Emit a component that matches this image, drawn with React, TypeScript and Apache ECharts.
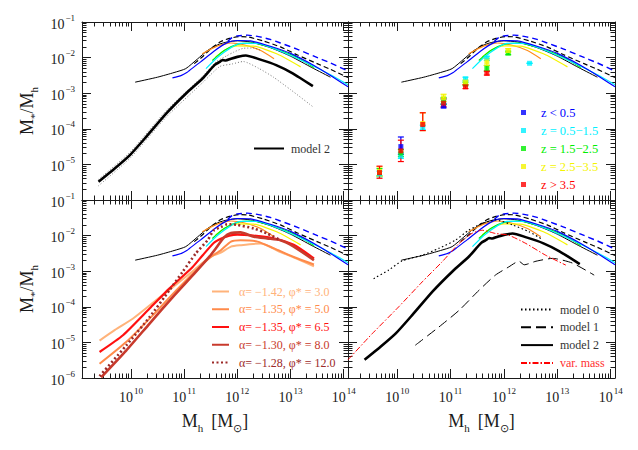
import React, { useEffect, useRef } from 'react';
import * as echarts from 'echarts';

// ---- axis ranges (log10 space) ----
const X_MIN = 9.08;
const X_MAX = 14.08;
const Y_MIN = -6;
const Y_MAX = -1;
const xMajorTicks = [10, 11, 12, 13, 14];
const yMajorTicks = [-6, -5, -4, -3, -2, -1];
const topYLabels = [-5, -4, -3, -2, -1];
const bottomYLabels = [-6, -5, -4, -3, -2, -1];
const minorFactors = [2, 3, 4, 5, 6, 7, 8, 9];

// ---- data: [log10 Mh, log10 (M*/Mh)] ----
const refBlackSolid = [[10.08, -2.69], [10.5, -2.55], [10.81, -2.42], [11.03, -2.31], [11.25, -2.04], [11.44, -1.8], [11.63, -1.64], [11.81, -1.56], [12.0, -1.53], [12.25, -1.56], [12.62, -1.72], [13.0, -1.96], [13.4, -2.28], [13.75, -2.55]];
const refBlackDashed = [[11.19, -2.17], [11.35, -1.97], [11.5, -1.75], [11.69, -1.55], [11.85, -1.46], [12.05, -1.41], [12.2, -1.42], [12.5, -1.54], [12.81, -1.7], [13.12, -1.92], [13.5, -2.17], [13.75, -2.33], [14.08, -2.56]];
const refBlueDashed = [[11.82, -1.55], [11.9, -1.44], [12.0, -1.39], [12.19, -1.37], [12.4, -1.41], [12.62, -1.49], [12.81, -1.59], [13.12, -1.76], [13.44, -1.96], [13.75, -2.15], [14.08, -2.38]];
const refBlueSolid = [[10.78, -2.57], [10.95, -2.5], [11.05, -2.42], [11.1, -2.36], [11.31, -2.12], [11.56, -1.82], [11.81, -1.58], [12.0, -1.52], [12.25, -1.53], [12.62, -1.68], [13.0, -1.88], [13.44, -2.22], [13.75, -2.5], [14.08, -2.82]];
const refCyan = [[11.41, -2.31], [11.63, -1.99], [11.88, -1.72], [12.06, -1.6], [12.38, -1.6], [12.81, -1.82], [13.31, -2.15], [13.75, -2.48], [14.08, -2.76]];
const refGreen = [[11.53, -2.08], [11.75, -1.8], [12.0, -1.63], [12.25, -1.59], [12.62, -1.71], [13.12, -1.99], [13.44, -2.28]];
const refYellow = [[11.59, -1.98], [11.81, -1.75], [12.0, -1.67], [12.31, -1.68], [12.75, -1.9], [13.19, -2.26]];
const refOrange = [[11.34, -1.89], [11.63, -1.67], [11.88, -1.59], [12.12, -1.64], [12.44, -1.8], [12.69, -2.03]];

const model2 = [[9.39, -5.49], [9.7, -5.11], [9.98, -4.74], [10.29, -4.22], [10.67, -3.56], [11.04, -3.0], [11.35, -2.58], [11.57, -2.21], [11.67, -2.12], [11.72, -2.07], [11.78, -2.08], [11.88, -2.03], [12.0, -1.98], [12.16, -1.94], [12.42, -2.05], [12.73, -2.21], [13.04, -2.44], [13.42, -2.8]];
const model2Upper = [[9.39, -5.42], [9.98, -4.66], [10.67, -3.48], [11.35, -2.52], [11.6, -2.12], [11.8, -1.95], [11.94, -1.84], [12.11, -1.74], [12.3, -1.73], [12.45, -1.8]];
const model2Lower = [[9.39, -5.6], [9.98, -4.83], [10.67, -3.66], [11.35, -2.7], [11.67, -2.25], [11.9, -2.18], [12.11, -2.11], [12.4, -2.3], [12.67, -2.54], [13.0, -2.9], [13.42, -3.38]];

const alpha142 = [[9.41, -4.95], [9.7, -4.65], [10.04, -4.33], [10.47, -3.82], [10.91, -3.3], [11.2, -2.95], [11.41, -2.69], [11.56, -2.55], [11.69, -2.48], [11.88, -2.31], [12.06, -2.27], [12.44, -2.22], [12.81, -2.46], [13.1, -2.64], [13.44, -2.86]];
const alpha135a = [[9.41, -5.6], [9.91, -4.99], [10.41, -4.24], [10.85, -3.54], [11.29, -2.88], [11.5, -2.6], [11.69, -2.41], [11.88, -2.17], [12.06, -2.13], [12.38, -2.17], [12.69, -2.36], [13.06, -2.6], [13.44, -2.81]];
const alpha135b = [[9.41, -5.27], [9.85, -4.8], [10.35, -4.05], [10.72, -3.49], [11.16, -2.88], [11.35, -2.55], [11.56, -2.2], [11.7, -2.08], [11.85, -2.0], [12.0, -1.97], [12.3, -2.0], [12.7, -2.08], [13.06, -2.26], [13.44, -2.64]];
const alpha130 = [[9.44, -5.98], [9.91, -5.23], [10.35, -4.47], [10.79, -3.72], [11.22, -3.02], [11.47, -2.6], [11.6, -2.35], [11.75, -2.05], [11.88, -1.93], [12.06, -1.91], [12.31, -2.03], [12.56, -2.08], [12.81, -2.13], [13.06, -2.31], [13.44, -2.69]];
const alpha128 = [[9.41, -5.95], [9.91, -5.09], [10.35, -4.29], [10.72, -3.54], [10.97, -3.02], [11.22, -2.5], [11.44, -2.13], [11.56, -1.85], [11.69, -1.76], [11.81, -1.68], [12.0, -1.7], [12.31, -1.8], [12.56, -1.94], [12.81, -2.13]];

const model0 = [[9.56, -3.21], [9.84, -2.97], [10.09, -2.71], [10.47, -2.55], [10.78, -2.36], [11.09, -2.13], [11.34, -1.85], [11.59, -1.66], [11.84, -1.56], [12.16, -1.7], [12.47, -1.89], [12.69, -2.08]];
const model1 = [[10.34, -5.08], [10.78, -4.57], [11.16, -4.1], [11.53, -3.54], [11.84, -3.11], [12.09, -2.88], [12.28, -2.72], [12.38, -2.82], [12.6, -2.72], [12.91, -2.64], [13.28, -2.77], [13.69, -3.11]];
const varMass = [[9.08, -5.49], [9.53, -4.76], [10.03, -4.0], [10.47, -3.3], [10.84, -2.74], [11.16, -2.22], [11.41, -1.93], [11.6, -1.85], [11.84, -1.94], [12.09, -1.99], [12.41, -2.22], [12.78, -2.55], [13.16, -2.83]];

// observed points: [log Mh, log ratio, err down, err up]
const zBin1 = [[10.07, -4.5, 0.22, 0.27], [10.87, -3.36, 0.05, 0.06]];
const zBin2 = [[9.67, -5.27, 0.08, 0.08], [10.07, -4.76, 0.07, 0.08], [10.48, -3.96, 0.07, 0.06], [10.87, -3.24, 0.07, 0.08], [11.28, -2.6, 0.05, 0.05], [11.68, -2.02, 0.06, 0.06], [12.48, -2.16, 0, 0]];
const zBin3 = [[9.67, -5.22, 0.1, 0.1], [10.07, -4.68, 0.1, 0.1], [10.87, -3.22, 0.1, 0.1], [11.28, -2.74, 0.05, 0.05], [11.68, -2.3, 0.08, 0.08], [12.08, -1.87, 0.05, 0.05]];
const zBin4 = [[9.67, -5.2, 0.14, 0.13], [10.48, -3.85, 0.2, 0.3], [10.87, -3.13, 0.1, 0.1], [11.28, -2.69, 0.06, 0.06], [11.68, -2.12, 0.1, 0.1], [12.08, -1.8, 0.05, 0.05]];
const zBin5 = [[9.67, -5.23, 0.16, 0.18], [10.07, -4.62, 0.3, 0.3], [10.48, -3.88, 0.17, 0.33], [10.87, -3.28, 0.1, 0.12], [11.28, -2.82, 0.05, 0.06], [11.68, -2.44, 0.05, 0.06]];

const zNames = ['z < 0.5', 'z = 0.5−1.5', 'z = 1.5−2.5', 'z = 2.5−3.5', 'z > 3.5'];
const zColors = ['#0000ff', '#00f0ff', '#00ee00', '#f4f400', '#ff0000'];
const alphaNames = ['α= −1.42, φ* = 3.0', 'α= −1.35, φ* = 5.0', 'α= −1.35, φ* = 6.5', 'α= −1.30, φ* = 8.0', 'α= −1.28, φ* = 12.0'];
const alphaColors = ['#ffb37a', '#ff8a4a', '#ff1010', '#c83a2c', '#9c2a28'];
const modelNames = ['model 0', 'model 1', 'model 2', 'var. mass'];

const FONT = 'Liberation Serif';
const INK = '#1a1a1a';

const GRIDS = [
  { left: 82, top: 22, width: 266, height: 178 },
  { left: 348, top: 22, width: 267, height: 178 },
  { left: 82, top: 200, width: 266, height: 178 },
  { left: 348, top: 200, width: 267, height: 178 },
];

function minorTicks(lo: number, hi: number) {
  const out: number[] = [];
  for (let n = Math.floor(lo) - 1; n <= Math.ceil(hi); n++) {
    for (const k of minorFactors) {
      const v = n + Math.log10(k);
      if (v > lo && v < hi) out.push(v);
    }
  }
  return out;
}

const rich = {
  b: { fontSize: 14, fontFamily: FONT, color: INK, lineHeight: 18, verticalAlign: 'bottom' },
  s: { fontSize: 9, fontFamily: FONT, color: INK, lineHeight: 18, verticalAlign: 'top', padding: [0, 0, 0, 1] },
};
const titleRich = {
  m: { fontSize: 18, fontFamily: FONT, color: INK, lineHeight: 22, verticalAlign: 'bottom' },
  sub: { fontSize: 11, fontFamily: FONT, color: INK, lineHeight: 22, verticalAlign: 'bottom', padding: [0, 0, -3, 0] },
};
const powLabel = (v: number) => {
  const n = Math.round(v);
  return `{b|10}{s|${n < 0 ? '−' + Math.abs(n) : n}}`;
};

function makeAxes(gi: number) {
  const isBottom = gi >= 2;
  const isLeft = gi % 2 === 0;
  const xMinor = minorTicks(X_MIN, X_MAX);
  const yMinor = minorTicks(Y_MIN, Y_MAX);
  const lineStyle = { color: INK, width: 1 };
  const xAxes: any[] = [];
  const yAxes: any[] = [];
  for (const pos of ['bottom', 'top']) {
    for (const major of [true, false]) {
      const showLabel = isBottom && pos === 'bottom' && major;
      const ax: any = {
        type: 'value', gridIndex: gi, position: pos, min: X_MIN, max: X_MAX,
        axisLine: { show: major, onZero: false, lineStyle },
        axisTick: { show: true, inside: true, length: major ? 9 : 4.5, customValues: major ? xMajorTicks : xMinor, lineStyle },
        axisLabel: { show: showLabel, customValues: xMajorTicks, formatter: powLabel, rich, margin: 8 },
        splitLine: { show: false },
      };
      if (showLabel) {
        ax.name = '{m|M}{sub|h} {m| [M}{sub|⊙}{m|]}';
        ax.nameLocation = 'middle';
        ax.nameGap = 30;
        ax.nameTextStyle = { rich: titleRich };
      }
      xAxes.push(ax);
    }
  }
  for (const pos of ['left', 'right']) {
    for (const major of [true, false]) {
      const showLabel = isLeft && pos === 'left' && major;
      const ay: any = {
        type: 'value', gridIndex: gi, position: pos, min: Y_MIN, max: Y_MAX,
        axisLine: { show: major, onZero: false, lineStyle },
        axisTick: { show: true, inside: true, length: major ? 9 : 4.5, customValues: major ? yMajorTicks : yMinor, lineStyle },
        axisLabel: { show: showLabel, customValues: isBottom ? bottomYLabels : topYLabels, formatter: powLabel, rich, margin: 7 },
        splitLine: { show: false },
      };
      if (showLabel) {
        ay.name = '{m|M}{sub|*}{m|/M}{sub|h}';
        ay.nameLocation = 'middle';
        ay.nameRotate = 90;
        ay.nameGap = 46;
        ay.nameTextStyle = { rich: titleRich };
      }
      yAxes.push(ay);
    }
  }
  return { xAxes, yAxes };
}

function line(gi: number, name: string, data: number[][], color: string, width: number, type: any = 'solid', z = 2) {
  return {
    type: 'line', name, xAxisIndex: gi * 4, yAxisIndex: gi * 4, data,
    symbol: 'none', showSymbol: false, silent: true, z, clip: true,
    smooth: 0.2,
    lineStyle: { color, width, type, cap: 'butt', join: 'round' },
    itemStyle: { color },
  };
}

function refBundle(gi: number) {
  return [
    line(gi, 'ref-black', refBlackSolid, '#000000', 1),
    line(gi, 'ref-black-dash', refBlackDashed, '#000000', 1.2, [5, 3]),
    line(gi, 'ref-blue-dash', refBlueDashed, '#0000ff', 1.4, [6, 4]),
    line(gi, 'ref-orange', refOrange, '#ff8c1a', 1.2),
    line(gi, 'ref-yellow', refYellow, '#f4f400', 1.2),
    line(gi, 'ref-green', refGreen, '#00ee00', 1.2),
    line(gi, 'ref-cyan', refCyan, '#00f0ff', 1.2),
    line(gi, 'ref-blue', refBlueSolid, '#0000ff', 1.2),
  ];
}

function zSeries(gi: number, name: string, pts: number[][], color: string) {
  return [
    {
      type: 'custom', name: name + ' err', xAxisIndex: gi * 4, yAxisIndex: gi * 4, silent: true, z: 3,
      data: pts.map((p) => [p[0], p[1] - p[2], p[1] + p[3]]),
      encode: { x: 0, y: [1, 2] },
      renderItem: (params: any, api: any) => {
        const x = api.value(0);
        const a = api.coord([x, api.value(2)]);
        const b = api.coord([x, api.value(1)]);
        const style = { stroke: color, lineWidth: 1.2, fill: 'none' };
        return {
          type: 'group',
          children: [
            { type: 'line', shape: { x1: a[0], y1: a[1], x2: b[0], y2: b[1] }, style },
            { type: 'line', shape: { x1: a[0] - 3, y1: a[1], x2: a[0] + 3, y2: a[1] }, style },
            { type: 'line', shape: { x1: b[0] - 3, y1: b[1], x2: b[0] + 3, y2: b[1] }, style },
          ],
        };
      },
    },
    {
      type: 'scatter', name, xAxisIndex: gi * 4, yAxisIndex: gi * 4, silent: true, z: 4,
      data: pts.map((p) => [p[0], p[1]]), symbol: 'rect', symbolSize: 5,
      itemStyle: { color },
    },
  ];
}

export default function App() {
  const ref = useRef<HTMLDivElement>(null);
  useEffect(() => {
    if (!ref.current) return;
    const chart = echarts.init(ref.current, undefined, { renderer: 'svg' });
    const xAxis: any[] = [];
    const yAxis: any[] = [];
    for (let gi = 0; gi < 4; gi++) {
      const { xAxes, yAxes } = makeAxes(gi);
      xAxis.push(...xAxes);
      yAxis.push(...yAxes);
    }
    const series: any[] = [];
    // top-left
    series.push(...refBundle(0));
    series.push(line(0, 'm2-upper', model2Upper, '#555555', 0.8, [1, 2]));
    series.push(line(0, 'm2-lower', model2Lower, '#555555', 0.8, [1, 2]));
    series.push(line(0, 'model 2', model2, '#000000', 2.6, 'solid', 5));
    // top-right
    series.push(...refBundle(1));
    const zPts = [zBin1, zBin2, zBin3, zBin4, zBin5];
    zPts.forEach((pts, i) => series.push(...zSeries(1, zNames[i], pts, zColors[i])));
    // bottom-left
    series.push(...refBundle(2));
    const aData = [alpha142, alpha135a, alpha135b, alpha130, alpha128];
    const aWidths = [2, 2, 2.2, 2.6, 2.6];
    aData.forEach((d, i) => series.push(line(2, alphaNames[i], d, alphaColors[i], aWidths[i], i === 4 ? [2, 2.5] : 'solid', 5)));
    // bottom-right
    series.push(...refBundle(3));
    series.push(line(3, 'model 0', model0, '#000000', 1.2, [1.5, 2.5], 5));
    series.push(line(3, 'model 1', model1, '#000000', 1, [10, 5], 5));
    series.push(line(3, 'model 2', model2, '#000000', 2.6, 'solid', 5));
    series.push(line(3, 'var. mass', varMass, '#ff0000', 1, [6, 2, 1.5, 2], 5));

    const legendText = { fontFamily: FONT, fontSize: 12, lineHeight: 13 };
    const hideSym = { opacity: 0, borderWidth: 0 };
    const legend = [
      {
        data: [{ name: 'model 2', textStyle: { color: '#333' } }],
        left: 248, top: 137, itemWidth: 30, itemHeight: 13, selectedMode: false, itemStyle: hideSym,
        textStyle: { ...legendText, padding: [0, 0, 0, 2] },
      },
      {
        data: zNames.map((n, i) => ({ name: n, textStyle: { color: zColors[i] } })),
        orient: 'vertical', left: 516, top: 101, itemWidth: 5, itemHeight: 5, itemGap: 5, selectedMode: false,
        icon: 'rect',
        textStyle: { ...legendText, fontSize: 12.5, padding: [0, 0, 0, 10] },
      },
      {
        data: alphaNames.map((n, i) => ({ name: n, textStyle: { color: alphaColors[i] } })),
        orient: 'vertical', left: 206, top: 280, itemWidth: 17, itemHeight: 13, itemGap: 4.75, selectedMode: false, itemStyle: hideSym,
        textStyle: { ...legendText, padding: [0, 0, 0, 5] },
      },
      {
        data: modelNames.map((n, i) => ({ name: n, textStyle: { color: i === 3 ? '#ff3030' : '#333' } })),
        orient: 'vertical', left: 515, top: 298, itemWidth: 32, itemHeight: 13, itemGap: 4.8, selectedMode: false, itemStyle: hideSym,
        textStyle: { ...legendText, padding: [0, 0, 0, 2] },
      },
    ];

    chart.setOption({
      animation: false,
      backgroundColor: '#ffffff',
      grid: GRIDS.map((g) => ({ ...g, containLabel: false })),
      xAxis,
      yAxis,
      legend,
      series,
    });
    return () => chart.dispose();
  }, []);
  return <div ref={ref} style={{ position: 'fixed', left: 0, top: 0, width: 638, height: 450 }} />;
}
